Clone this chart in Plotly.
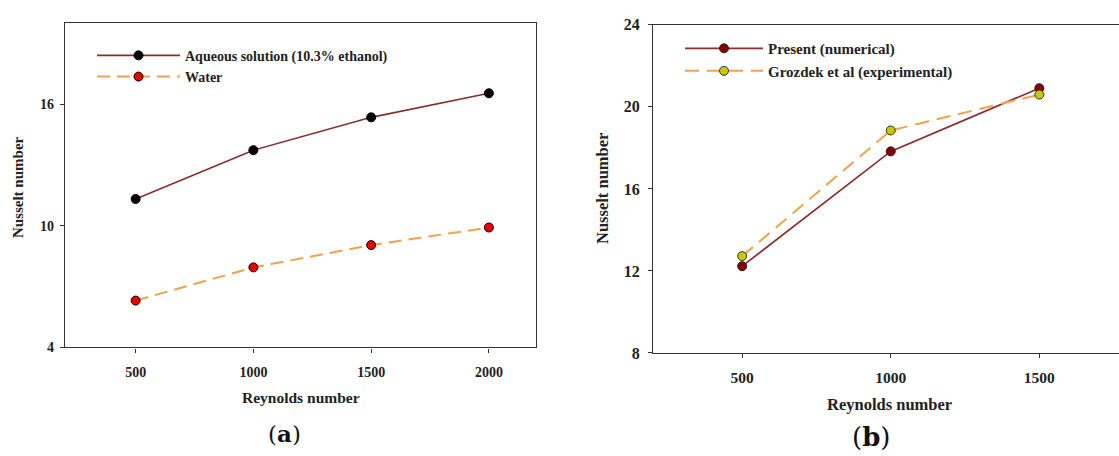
import plotly.graph_objects as go

# Panel (a)
re_a = [500, 1000, 1500, 2000]
nu_aqueous = [11.33, 13.74, 15.36, 16.55]
nu_water = [6.31, 7.95, 9.05, 9.92]

# Panel (b)
re_b = [500, 1000, 1500]
nu_present = [12.23, 17.83, 20.91]
nu_grozdek = [12.72, 18.85, 20.6]

yticks_a = [4, 10, 16]
yticks_b = [8, 12, 16, 20, 24]
xticks_a = [500, 1000, 1500, 2000]
xticks_b = [500, 1000, 1500, 2000]

FONT = "Liberation Serif"
RED_LINE = "#8b2d2d"
ORANGE = "#f2a14c"
TXT = "#222"

fig = go.Figure()

fig.add_trace(go.Scatter(
    x=re_a, y=nu_aqueous, mode="lines+markers", name="Aqueous solution (10.3% ethanol)",
    line=dict(color=RED_LINE, width=1.6),
    marker=dict(color="black", size=9, line=dict(color="black", width=1)),
    xaxis="x", yaxis="y", legend="legend"))
fig.add_trace(go.Scatter(
    x=re_a, y=nu_water, mode="lines+markers", name="Water",
    line=dict(color=ORANGE, width=2, dash="13px,7px"),
    marker=dict(color="#e80000", size=9, line=dict(color="black", width=1)),
    xaxis="x", yaxis="y", legend="legend"))

fig.add_trace(go.Scatter(
    x=re_b, y=nu_present, mode="lines+markers", name="Present (numerical)",
    line=dict(color=RED_LINE, width=1.7),
    marker=dict(color="#8b0000", size=9, line=dict(color="#222", width=1)),
    xaxis="x2", yaxis="y2", legend="legend2"))
fig.add_trace(go.Scatter(
    x=re_b, y=nu_grozdek, mode="lines+markers", name="Grozdek et al (experimental)",
    line=dict(color=ORANGE, width=2, dash="14px,8px"),
    marker=dict(color="#c6c800", size=9, line=dict(color="#333", width=1)),
    xaxis="x2", yaxis="y2", legend="legend2"))

W, H = 1119, 456
def px_x(p): return p / W
def px_y(p): return 1 - p / H

def axis(size, standoff, **kw):
    d = dict(showgrid=False, zeroline=False, showline=True, linecolor="#333",
             linewidth=1.3, ticks="outside", ticklen=4, tickcolor="#333",
             tickfont=dict(family=FONT, size=size, color=TXT, weight="bold"),
             ticklabelstandoff=standoff)
    d.update(kw)
    return d

fig.update_layout(
    width=W, height=H,
    margin=dict(l=0, r=0, t=0, b=0),
    paper_bgcolor="white", plot_bgcolor="white",
    font=dict(family=FONT, color=TXT),
    xaxis=axis(14, 8, domain=[px_x(65), px_x(536)], range=[200, 2200], tickvals=xticks_a,
               mirror=True, anchor="y"),
    yaxis=axis(14, 3, domain=[px_y(352.5), px_y(16)], range=[4, 20], tickvals=yticks_a,
               mirror=True, anchor="x"),
    xaxis2=axis(15.5, 6, domain=[px_x(653), 1.0], range=[200, 1768], tickvals=xticks_b,
                mirror=True, anchor="y2"),
    yaxis2=axis(16, 5, domain=[px_y(358.3), px_y(17.5)], range=[8, 24], tickvals=yticks_b,
                anchor="x2"),
    legend=dict(x=px_x(92), y=px_y(33), xanchor="left", yanchor="top",
                bgcolor="rgba(0,0,0,0)", itemwidth=83,
                font=dict(family=FONT, size=14, color=TXT, weight="bold"),
                tracegroupgap=0),
    legend2=dict(x=px_x(680), y=px_y(25), xanchor="left", yanchor="top",
                 bgcolor="rgba(0,0,0,0)", itemwidth=78,
                 font=dict(family=FONT, size=15, color=TXT, weight="bold"),
                 tracegroupgap=0),
    showlegend=True,
)

anns = [
    dict(text="Reynolds number", x=px_x(301), y=px_y(405), size=15.5),
    dict(text="Reynolds number", x=px_x(889), y=px_y(412), size=16.5),
    dict(text="Nusselt number", x=px_x(18), y=px_y(186), size=15, textangle=-90),
    dict(text="Nusselt number", x=px_x(603), y=px_y(188), size=16.5, textangle=-90),
]
for a in anns:
    size = a.pop("size")
    fig.add_annotation(xref="paper", yref="paper", showarrow=False,
                       xanchor="center", yanchor="middle",
                       font=dict(family=FONT, size=size, color=TXT, weight="bold"), **a)

for txt, x, y, size in [("a", 284, 442, 23), ("b", 871, 446, 26)]:
    fig.add_annotation(xref="paper", yref="paper", showarrow=False,
                       xanchor="center", yanchor="middle", x=px_x(x), y=px_y(y),
                       text="(<b>" + txt + "</b>)",
                       font=dict(family="DejaVu Serif", size=size, color="#111"))

fig.write_html("out.html", config={"displayModeBar": False},
               post_script="document.body.style.margin='0';document.body.style.overflow='hidden';")
